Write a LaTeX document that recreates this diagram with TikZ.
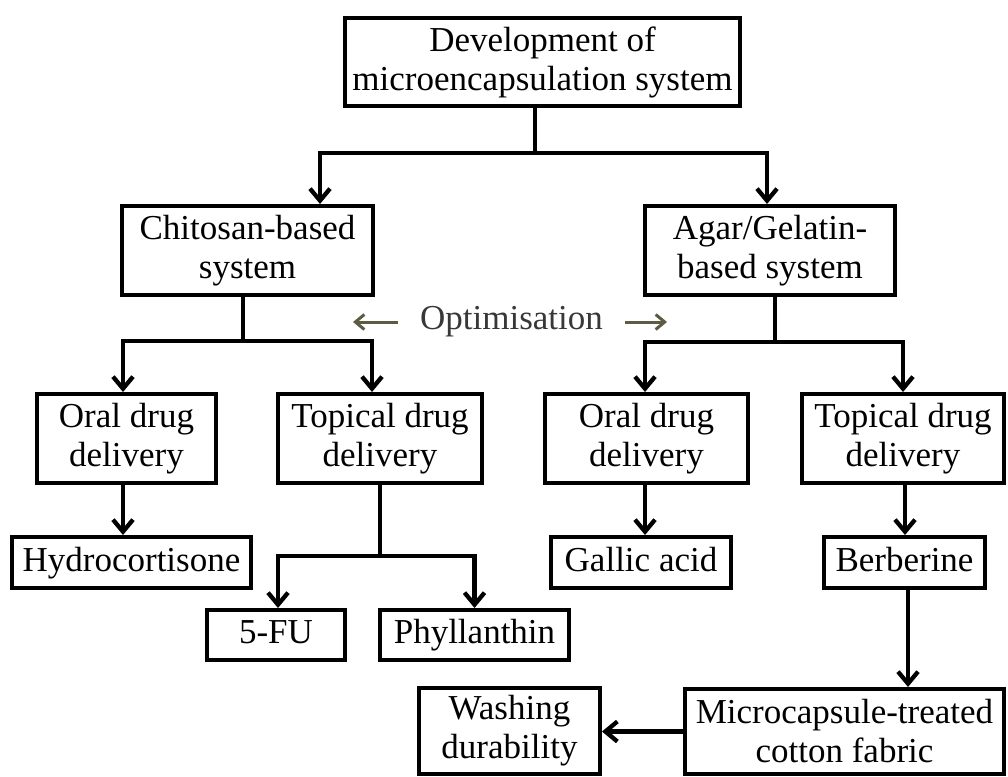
\documentclass[tikz,border=0pt]{standalone}
\usepackage{fontspec}
\setmainfont{Liberation Serif}
\usetikzlibrary{arrows.meta}
\definecolor{optc}{HTML}{383838}
\definecolor{olivec}{HTML}{5E5B45}
\begin{document}
\begin{tikzpicture}[x=1pt,y=-1pt,
  box/.style={draw, line width=4.3pt, inner sep=0pt, align=center, font=\fontsize{35}{39}\selectfont},
  onebox/.style={box, text height=25pt, text depth=8pt},
  conn/.style={line width=4.3pt},
  arr/.style={conn, -{Straight Barb[length=12pt,width=20pt]}},
  oarr/.style={line width=3pt, draw=olivec, -{Straight Barb[length=9pt,width=15pt]}}
]
\useasboundingbox (0,0) rectangle (1008,776);
% nodes
\node[box, minimum width=394.7pt, minimum height=87.7pt] (top) at (542.5,62) {Development of\\microencapsulation system};
\node[box, minimum width=250.7pt, minimum height=88.7pt] (chit) at (247.5,250.5) {Chitosan-based\\system};
\node[box, minimum width=249.7pt, minimum height=88.7pt] (agar) at (770,250.5) {Agar/Gelatin-\\based system};
\node[box, minimum width=178.7pt, minimum height=88.7pt] (oralL) at (126.5,438.5) {Oral drug\\delivery};
\node[box, minimum width=203.7pt, minimum height=88.7pt] (topL) at (380,438.5) {Topical drug\\delivery};
\node[box, minimum width=202.7pt, minimum height=88.7pt] (oralR) at (646.5,438.5) {Oral drug\\delivery};
\node[box, minimum width=201.7pt, minimum height=88.7pt] (topR) at (903,438.5) {Topical drug\\delivery};
\node[onebox, minimum width=238.7pt, minimum height=50.7pt] (hydro) at (131.5,562.5) {Hydrocortisone};
\node[onebox, minimum width=137.7pt, minimum height=49.7pt] (fu) at (276,635) {5-FU};
\node[onebox, minimum width=188.7pt, minimum height=49.7pt] (phyl) at (474.5,635) {Phyllanthin};
\node[onebox, minimum width=179.7pt, minimum height=50.7pt] (gallic) at (641,562.5) {Gallic acid};
\node[onebox, minimum width=160.7pt, minimum height=50.7pt] (berb) at (904.5,562.5) {Berberine};
\node[box, minimum width=180.7pt, minimum height=85.7pt] (wash) at (509.5,731) {Washing\\durability};
\node[box, minimum width=318.7pt, minimum height=84.7pt] (micro) at (844.5,731.5) {Microcapsule-treated\\cotton fabric};
\node[font=\fontsize{35}{39}\selectfont, text=optc, inner sep=0pt] (opt) at (511.5,322) {Optimisation};
% junctions and x positions
\coordinate (j1) at (535,153);
\coordinate (j2) at (243,341);
\coordinate (j3) at (775,342);
\coordinate (j4) at (380,556);
\coordinate (xa) at (123,0);
\coordinate (xb) at (645,0);
\coordinate (xc) at (905,0);
\coordinate (xd) at (908,0);
\coordinate (oL) at (353,0);
\coordinate (oR) at (667,0);
% connectors
\draw[conn] (top.south -| j1) -- (j1);
\draw[arr] (j1) -| ([xshift=72.5]chit.north);
\draw[arr] (j1) -| ([xshift=-3]agar.north);
\draw[conn] (chit.south -| j2) -- (j2);
\draw[arr] (j2) -| ([xshift=-3.5]oralL.north);
\draw[arr] (j2) -| ([xshift=-8]topL.north);
\draw[conn] (agar.south -| j3) -- (j3);
\draw[arr] (j3) -| ([xshift=-1.5]oralR.north);
\draw[arr] (j3) -| (topR.north);
\draw[arr] (oralL.south -| xa) -- (hydro.north -| xa);
\draw[conn] (topL.south -| j4) -- (j4);
\draw[arr] (j4) -| ([xshift=2]fu.north);
\draw[arr] (j4) -| (phyl.north);
\draw[arr] (oralR.south -| xb) -- (gallic.north -| xb);
\draw[arr] (topR.south -| xc) -- (berb.north -| xc);
\draw[arr] (berb.south -| xd) -- (micro.north -| xd);
\draw[arr] (micro.west) -- (micro.west -| wash.east);
\draw[oarr] ([xshift=-22]opt.west) -- (opt.west -| oL);
\draw[oarr] ([xshift=22]opt.east) -- (opt.east -| oR);
\end{tikzpicture}
\end{document}
